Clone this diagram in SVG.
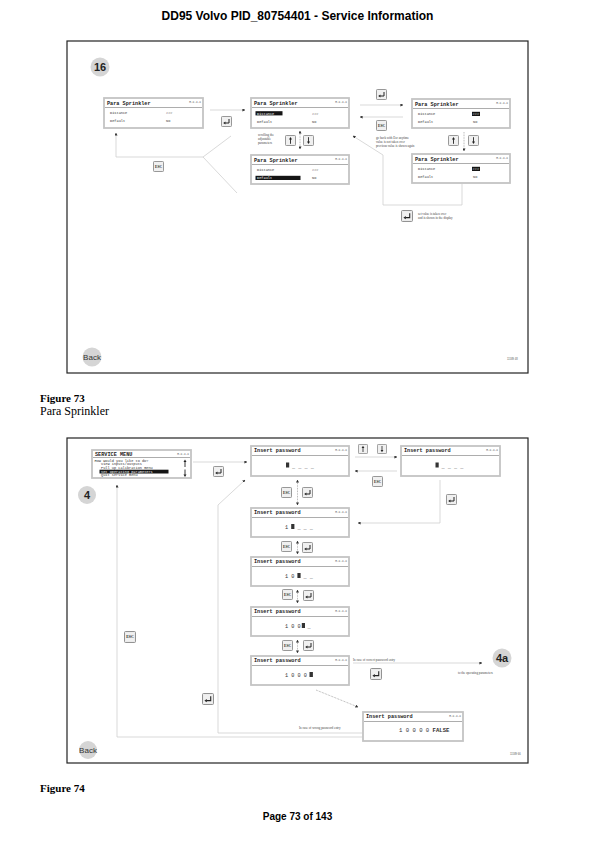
<svg xmlns="http://www.w3.org/2000/svg" width="595" height="842" viewBox="0 0 595 842">
<style>
.hdr{font-family:"Liberation Sans",Arial,sans-serif;font-weight:bold;font-size:12px;fill:#000;text-anchor:middle}
.ftr{font-family:"Liberation Sans",Arial,sans-serif;font-weight:bold;font-size:10px;fill:#000;text-anchor:middle}
.capb{font-family:"Liberation Serif","Times New Roman",serif;font-weight:bold;font-size:11px;fill:#000}
.cap{font-family:"Liberation Serif","Times New Roman",serif;font-size:12px;fill:#000}
.frame{fill:none;stroke:#222;stroke-width:1.2}
.box{fill:#fff;stroke:#c4c4c4;stroke-width:1.8}
.sep{stroke:#8a8a8a;stroke-width:0.7}
.t{font-family:"Liberation Mono","Courier New",monospace;font-weight:bold;font-size:5.2px;fill:#222}
.lab{font-family:"Liberation Mono","Courier New",monospace;font-size:2.8px;fill:#444;text-anchor:end}
.row{font-family:"Liberation Mono","Courier New",monospace;font-size:3.6px;fill:#333}
.rowi{font-family:"Liberation Mono","Courier New",monospace;font-size:3.6px;fill:#fff}
.pw{font-family:"Liberation Mono","Courier New",monospace;font-size:5.2px;fill:#333}
.hl{fill:#151515}
.note{font-family:"Liberation Serif","Times New Roman",serif;font-size:3.2px;fill:#444}
.con{fill:none;stroke:#cfcfcf;stroke-width:0.8}
.dot{fill:none;stroke:#777;stroke-width:0.6;stroke-dasharray:0.8 0.8}
.circ{fill:#d5d5d5}
.ct{font-family:"Liberation Sans",Arial,sans-serif;font-weight:bold;font-size:11px;fill:#222;text-anchor:middle}
.bk{font-family:"Liberation Sans Narrow","Liberation Sans",Arial,sans-serif;font-size:8px;fill:#333;text-anchor:middle}
.tiny{font-family:"Liberation Sans",Arial,sans-serif;font-size:2.6px;fill:#555}
</style>
<defs>
<marker id="ah" markerUnits="userSpaceOnUse" markerWidth="3" markerHeight="3" refX="2.6" refY="1.5" orient="auto">
<path d="M0,0 L3,1.5 L0,3 z" fill="#333"/>
</marker>
<marker id="as" markerUnits="userSpaceOnUse" markerWidth="3" markerHeight="3" refX="0.4" refY="1.5" orient="auto">
<path d="M3,0 L0,1.5 L3,3 z" fill="#333"/>
</marker>
<symbol id="kEnter" viewBox="0 0 11 11">
<rect x="0.5" y="0.5" width="10" height="10" rx="0.8" fill="#f0f0f0" stroke="#8c8c8c" stroke-width="0.9"/>
<path d="M8 3 V7 H4" fill="none" stroke="#222" stroke-width="1"/>
<path d="M2.2 7 L4.4 5.5 L4.4 8.5 z" fill="#222"/>
</symbol>
<symbol id="kUp" viewBox="0 0 11 11">
<rect x="0.5" y="0.5" width="10" height="10" rx="0.8" fill="#f0f0f0" stroke="#8c8c8c" stroke-width="0.9"/>
<path d="M5.5 8.8 V4" fill="none" stroke="#222" stroke-width="0.9"/>
<path d="M5.5 2 L4 4.5 L7 4.5 z" fill="#222"/>
</symbol>
<symbol id="kDown" viewBox="0 0 11 11">
<rect x="0.5" y="0.5" width="10" height="10" rx="0.8" fill="#f0f0f0" stroke="#8c8c8c" stroke-width="0.9"/>
<path d="M5.5 2.2 V7" fill="none" stroke="#222" stroke-width="0.9"/>
<path d="M5.5 9 L4 6.5 L7 6.5 z" fill="#222"/>
</symbol>
<symbol id="kEsc" viewBox="0 0 11 11">
<rect x="0.5" y="0.5" width="10" height="10" rx="0.8" fill="#f0f0f0" stroke="#8c8c8c" stroke-width="0.9"/>
<text x="5.5" y="6.8" font-family="Liberation Serif,serif" font-weight="bold" font-size="3.6" fill="#222" text-anchor="middle">ESC</text>
</symbol>
</defs>
<rect width="595" height="842" fill="#fff"/>
<text class="hdr" x="297.5" y="20">DD95 Volvo PID_80754401 - Service Information</text>

<!-- ================= Figure 73 ================= -->
<rect class="frame" x="67" y="41" width="461" height="332"/>
<g id="badge16"><circle class="circ" cx="100" cy="67" r="9.5"/><text class="ct" x="100" y="71">16</text></g>

<g id="connectors73">
<line class="con" x1="210" y1="110" x2="245" y2="110" marker-end="url(#ah)"/>
<line class="con" x1="360" y1="105" x2="403" y2="105" marker-end="url(#ah)"/>
<line class="con" x1="403" y1="117" x2="360" y2="117" marker-end="url(#ah)"/>
<polyline class="con" points="203,157 116,157 116,133" marker-end="url(#ah)"/>
<line class="con" x1="203" y1="157" x2="231" y2="136"/>
<line class="con" x1="203" y1="157" x2="237" y2="193"/>
<polyline class="con" points="462,184 462,205 383,205 383,155 353,136" marker-end="url(#ah)"/>
<line class="dot" x1="300" y1="131" x2="300" y2="149" marker-start="url(#as)" marker-end="url(#ah)"/>
<line class="dot" x1="464" y1="132" x2="464" y2="151" marker-end="url(#ah)"/>
<use href="#kEnter" x="221" y="116" width="11" height="11"/>
<use href="#kEsc" x="153" y="161" width="11" height="11"/>
<use href="#kUp" x="285" y="135" width="11" height="11"/>
<use href="#kDown" x="303" y="135" width="11" height="11"/>
<use href="#kEnter" x="376" y="89" width="11" height="11"/>
<use href="#kEsc" x="376" y="120" width="11" height="11"/>
<use href="#kUp" x="448" y="135" width="11" height="11"/>
<use href="#kDown" x="468" y="135" width="11" height="11"/>
<use href="#kEnter" x="401" y="210" width="12" height="12"/>
<text class="note" x="258" y="136">scrolling the</text>
<text class="note" x="258" y="140">adjustable</text>
<text class="note" x="258" y="144">parameters</text>
<text class="note" x="376" y="139">go back with Esc anytime</text>
<text class="note" x="376" y="143">value is not taken over</text>
<text class="note" x="376" y="147">previous value is shown again</text>
<text class="note" x="418" y="215">set value is taken over</text>
<text class="note" x="418" y="219">and is shown in the display</text>
</g>

<g id="ps1">
<rect class="box" x="104" y="98" width="99" height="30"/>
<text class="t" x="107" y="104.5">Para Sprinkler</text><text class="lab" x="201" y="103">M.X.X.X</text>
<line class="sep" x1="105" y1="107.5" x2="202" y2="107.5"/>
<text class="row" x="110" y="114">Distance</text><text class="row" x="166" y="114">###</text>
<text class="row" x="110" y="122">Default</text><text class="row" x="166" y="122">No</text>
</g>
<g id="ps2">
<rect class="box" x="251" y="98" width="98" height="30"/>
<text class="t" x="254" y="104.5">Para Sprinkler</text><text class="lab" x="347" y="103">M.X.X.X</text>
<line class="sep" x1="252" y1="107.5" x2="348" y2="107.5"/>
<rect class="hl" x="255.5" y="111.2" width="27" height="4.2"/>
<text class="rowi" x="257" y="114.5">Distance</text><text class="row" x="312" y="114.5">###</text>
<text class="row" x="257" y="122.5">Default</text><text class="row" x="312" y="122.5">No</text>
</g>
<g id="ps3">
<rect class="box" x="251" y="155" width="98" height="29"/>
<text class="t" x="254" y="161.5">Para Sprinkler</text><text class="lab" x="347" y="160">M.X.X.X</text>
<line class="sep" x1="252" y1="164.5" x2="348" y2="164.5"/>
<text class="row" x="257" y="171">Distance</text><text class="row" x="312" y="171">###</text>
<rect class="hl" x="255.5" y="175.8" width="45" height="4.2"/>
<text class="rowi" x="257" y="179">Default</text><text class="row" x="312" y="179">No</text>
</g>
<g id="ps4">
<rect class="box" x="412" y="99" width="98" height="29"/>
<text class="t" x="415" y="105.5">Para Sprinkler</text><text class="lab" x="508" y="104">M.X.X.X</text>
<line class="sep" x1="413" y1="108.5" x2="509" y2="108.5"/>
<text class="row" x="418" y="115">Distance</text>
<rect class="hl" x="472" y="111.8" width="8" height="4.2"/><text class="rowi" x="472.6" y="115">###</text>
<text class="row" x="418" y="123">Default</text><text class="row" x="473" y="123">No</text>
</g>
<g id="ps5">
<rect class="box" x="412" y="154" width="98" height="29"/>
<text class="t" x="415" y="160.5">Para Sprinkler</text><text class="lab" x="508" y="159">M.X.X.X</text>
<line class="sep" x1="413" y1="163.5" x2="509" y2="163.5"/>
<text class="row" x="418" y="170">Distance</text>
<rect class="hl" x="472" y="166.8" width="8" height="4.2"/><text class="rowi" x="472.6" y="170">###</text>
<text class="row" x="418" y="178">Default</text><text class="row" x="473" y="178">No</text>
</g>
<g id="back73"><circle class="circ" cx="92" cy="357" r="9.5"/><text class="bk" x="92" y="360">Back</text></g>
<text class="tiny" x="507" y="360">11589 48</text>

<text class="capb" x="40" y="402">Figure 73</text>
<text class="cap" x="40" y="415">Para Sprinkler</text>

<!-- ================= Figure 74 ================= -->
<rect class="frame" x="67" y="438" width="461" height="325"/>
<g id="badge4"><circle class="circ" cx="87" cy="495" r="9"/><text class="ct" x="87" y="499">4</text></g>
<g id="badge4a"><circle class="circ" cx="502" cy="658" r="9.5"/><text class="ct" x="502" y="662">4a</text></g>

<g id="connectors74">
<line class="con" x1="193" y1="462" x2="247" y2="462" marker-end="url(#ah)"/>
<polyline class="con" points="363,737 117,737 117,485" marker-end="url(#ah)"/>
<polyline class="con" points="363,733 218,733 218,505 245,480" marker-end="url(#ah)"/>
<line class="con" x1="355" y1="457" x2="397" y2="457" marker-end="url(#ah)"/>
<line class="con" x1="397" y1="471" x2="355" y2="471" marker-end="url(#ah)"/>
<polyline class="con" points="440,480 440,523 358,523" marker-end="url(#ah)"/>
<line class="con" x1="353" y1="663" x2="482" y2="663" marker-end="url(#ah)"/>
<line class="dot" x1="316" y1="690" x2="358" y2="707" marker-end="url(#ah)"/>
<line class="dot" x1="297.5" y1="480" x2="297.5" y2="505" marker-start="url(#as)" marker-end="url(#ah)"/>
<line class="dot" x1="297.5" y1="541" x2="297.5" y2="554" marker-start="url(#as)" marker-end="url(#ah)"/>
<line class="dot" x1="297.5" y1="590" x2="297.5" y2="603" marker-start="url(#as)" marker-end="url(#ah)"/>
<line class="dot" x1="297.5" y1="640" x2="297.5" y2="653" marker-start="url(#as)" marker-end="url(#ah)"/>
<use href="#kEnter" x="213" y="466" width="11" height="11"/>
<use href="#kUp" x="358" y="444" width="10" height="10"/>
<use href="#kDown" x="377" y="444" width="10" height="10"/>
<use href="#kEsc" x="372" y="476" width="11" height="11"/>
<use href="#kEsc" x="281" y="487" width="11" height="11"/>
<use href="#kEnter" x="302" y="487" width="11" height="11"/>
<use href="#kEnter" x="446" y="494" width="11" height="11"/>
<use href="#kEsc" x="281" y="541" width="11" height="11"/>
<use href="#kEnter" x="302" y="542" width="11" height="11"/>
<use href="#kEsc" x="282" y="589" width="11" height="11"/>
<use href="#kEnter" x="303" y="590" width="11" height="11"/>
<use href="#kEsc" x="282" y="640" width="11" height="11"/>
<use href="#kEnter" x="303" y="640" width="11" height="11"/>
<use href="#kEnter" x="370" y="668" width="12" height="12"/>
<use href="#kEsc" x="124" y="631" width="12" height="12"/>
<use href="#kEnter" x="202" y="693" width="12" height="12"/>
<text class="note" x="353" y="661">In case of correct password entry</text>
<text class="note" x="458" y="674">to the operating parameters</text>
<text class="note" x="299" y="729">In case of wrong password entry</text>
</g>

<g id="service">
<rect class="box" x="92" y="450" width="99" height="28"/>
<text class="t" x="95" y="455.5">SERVICE MENU</text><text class="lab" x="189" y="454.5">M.X.X.X</text>
<line class="sep" x1="93" y1="457.5" x2="190" y2="457.5"/>
<text class="row" x="94.5" y="461.5">How would you like to do?</text>
<text class="row" x="101" y="465.2">View inputs/outputs</text>
<text class="row" x="101" y="468.9">Pull up calibration menu</text>
<rect class="hl" x="99.5" y="469.7" width="69" height="3.8"/>
<text class="rowi" x="101" y="472.7">Set operating parameters</text>
<text class="row" x="101" y="476.4">Quit service menu</text>
<path d="M185 467 V461.5" stroke="#222" stroke-width="0.9" fill="none"/><path d="M185 459.5 L183.5 462 L186.5 462 z" fill="#222"/>
<path d="M185 469.5 V475" stroke="#222" stroke-width="0.9" fill="none"/><path d="M185 477 L183.5 474.5 L186.5 474.5 z" fill="#222"/>
</g>
<g id="pwA">
<rect class="box" x="251" y="446" width="98" height="30"/>
<text class="t" x="254" y="452">Insert password</text><text class="lab" x="347" y="451">M.X.X.X</text>
<line class="sep" x1="252" y1="455.5" x2="348" y2="455.5"/>
<rect x="286" y="462.5" width="3.2" height="5" fill="#333"/><text class="pw" x="292" y="467.5">_ _ _ _</text>
</g>
<g id="pwB">
<rect class="box" x="401" y="446" width="99" height="30"/>
<text class="t" x="404" y="452">Insert password</text><text class="lab" x="498" y="451">M.X.X.X</text>
<line class="sep" x1="402" y1="455.5" x2="499" y2="455.5"/>
<rect x="435.5" y="462.5" width="3.2" height="5" fill="#333"/><text class="pw" x="441.5" y="467.5">_ _ _ _</text>
</g>
<g id="pwC">
<rect class="box" x="251" y="508" width="98" height="29"/>
<text class="t" x="254" y="514">Insert password</text><text class="lab" x="347" y="513">M.X.X.X</text>
<line class="sep" x1="252" y1="517.5" x2="348" y2="517.5"/>
<text class="pw" x="285" y="529">1</text><rect x="291.2" y="524" width="3.2" height="5" fill="#333"/><text class="pw" x="297.4" y="529">_ _ _</text>
</g>
<g id="pwD">
<rect class="box" x="251" y="557" width="98" height="29"/>
<text class="t" x="254" y="563">Insert password</text><text class="lab" x="347" y="562">M.X.X.X</text>
<line class="sep" x1="252" y1="566.5" x2="348" y2="566.5"/>
<text class="pw" x="285" y="578">1 0</text><rect x="297.4" y="573" width="3.2" height="5" fill="#333"/><text class="pw" x="303.6" y="578">_ _</text>
</g>
<g id="pwE">
<rect class="box" x="251" y="607" width="98" height="29"/>
<text class="t" x="254" y="613">Insert password</text><text class="lab" x="347" y="612">M.X.X.X</text>
<line class="sep" x1="252" y1="616.5" x2="348" y2="616.5"/>
<text class="pw" x="285" y="628">1 0 0</text><rect x="301.8" y="623" width="3.2" height="5" fill="#333"/><text class="pw" x="307.5" y="628">_</text>
</g>
<g id="pwF">
<rect class="box" x="251" y="656" width="98" height="29"/>
<text class="t" x="254" y="662">Insert password</text><text class="lab" x="347" y="661">M.X.X.X</text>
<line class="sep" x1="252" y1="665.5" x2="348" y2="665.5"/>
<text class="pw" x="285" y="677">1 0 0 0</text><rect x="309.5" y="672" width="3.4" height="5" fill="#333"/>
</g>
<g id="pwG">
<rect class="box" x="363" y="712" width="100" height="29"/>
<text class="t" x="366" y="718">Insert password</text><text class="lab" x="461" y="717">M.X.X.X</text>
<line class="sep" x1="364" y1="721.5" x2="462" y2="721.5"/>
<text class="pw" x="399" y="732" style="font-size:5.6px">1 0 0 0 0  <tspan font-weight="bold">FALSE</tspan></text>
</g>
<g id="back74"><circle class="circ" cx="88" cy="750" r="9"/><text class="bk" x="88" y="753">Back</text></g>
<text class="tiny" x="510" y="755">11589 66</text>

<text class="capb" x="40" y="792">Figure 74</text>
<text class="ftr" x="297.5" y="820">Page 73 of 143</text>
</svg>
